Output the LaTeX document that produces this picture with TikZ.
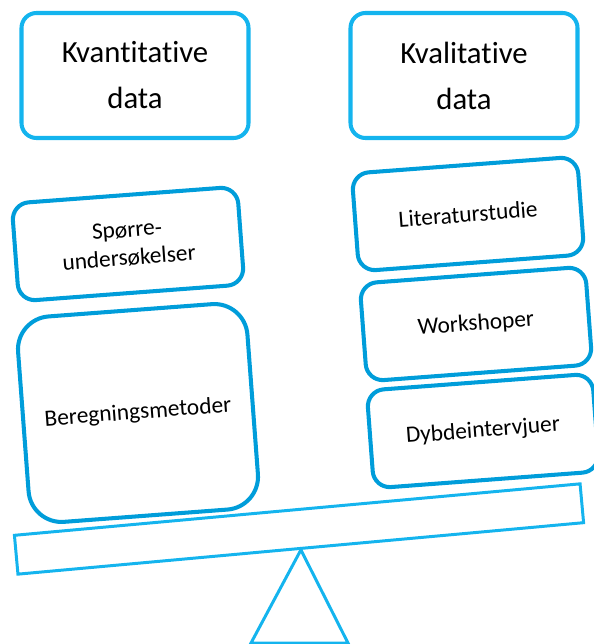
\documentclass[tikz,border=0pt]{standalone}
\usepackage{fontspec}
\setmainfont[Ligatures={NoCommon}]{Carlito}
\usetikzlibrary{positioning,calc}
\definecolor{lightblue}{RGB}{20,180,238}
\definecolor{methodblue}{RGB}{0,157,218}
\tikzset{
    databox/.style={draw=lightblue, line width=2.3pt, rounded corners=0.3cm, align=center,
        font=\fontsize{17.5}{26.2}\selectfont, minimum width=4.54cm, minimum height=2.5cm,
        inner sep=0pt},
    methodbox/.style={draw=methodblue, line width=2.3pt, rounded corners=0.34cm, align=center,
        font=\fontsize{13.3}{16}\selectfont, minimum width=4.52cm, minimum height=1.96cm,
        inner sep=0pt, rotate=4.3}
}

\begin{document}
\begin{tikzpicture}[
    bigbox/.style={methodbox, rounded corners=0.66cm, minimum width=4.6cm, minimum height=4.12cm},
    beambox/.style={draw=lightblue, line width=1.7pt, minimum width=11.36cm, minimum height=0.78cm,
        inner sep=0pt, rotate=5.2}
]
\useasboundingbox (0,0) rectangle (11.86,-12.88);
\node[databox] (kvant) at (2.70,-1.51) {Kvantitative\\data};
\node[databox] (kval) at (9.28,-1.51) {Kvalitative\\data};
\node[methodbox] (sporre) at (2.56,-4.88) {Spørre-\\undersøkelser};
\node[bigbox] (beregn) at (2.76,-8.26) {Beregningsmetoder};
\node[methodbox] (litt) at (9.36,-4.28) {Literaturstudie};
\node[methodbox] (workshop) at (9.52,-6.48) {Workshoper};
\node[methodbox] (dybde) at (9.66,-8.62) {Dybdeintervjuer};
\node[beambox] (beam) at (5.98,-10.58) {};
\draw[lightblue, line width=1.7pt] (beam.south) -- (5.02,-12.86) -- (6.96,-12.86) -- cycle;
\end{tikzpicture}
\end{document}
